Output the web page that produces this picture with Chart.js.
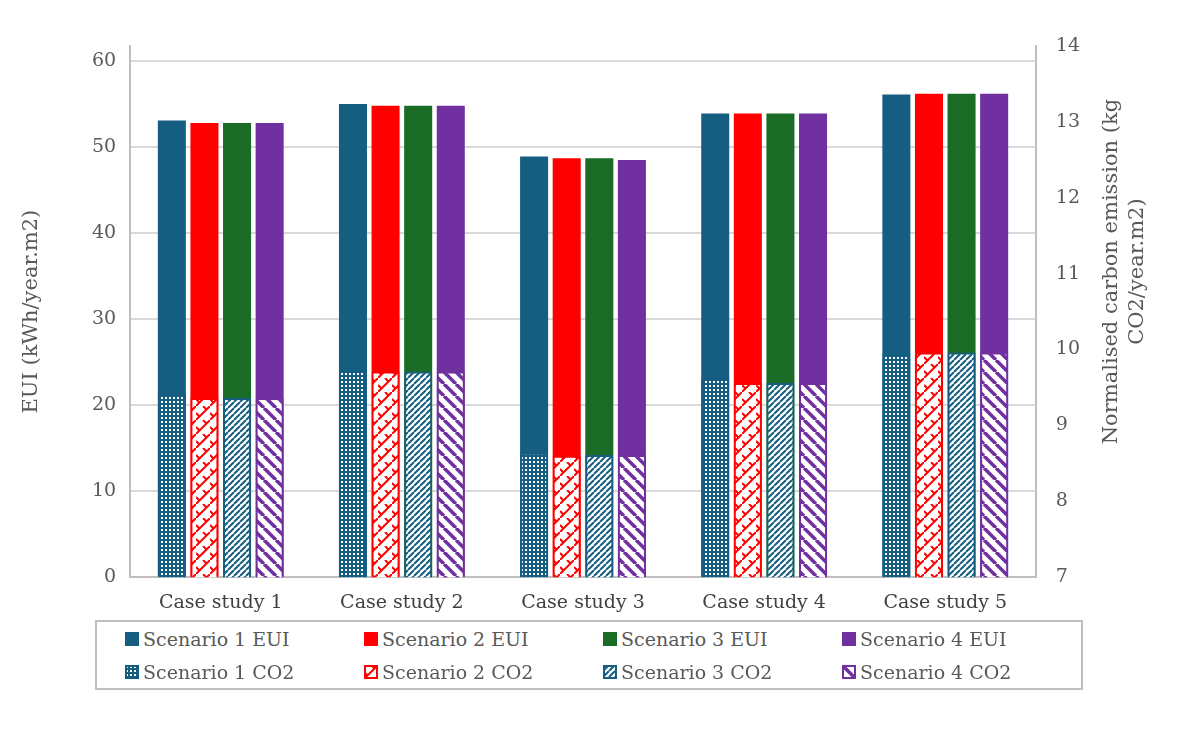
<!DOCTYPE html>
<html><head><meta charset="utf-8">
<script src="https://cdn.jsdelivr.net/npm/chart.js@4"></script>
<style>
body{margin:0;background:#fff;font-family:"DejaVu Serif",serif;}
#wrap{position:relative;width:1200px;height:733px;}
#legend{position:absolute;left:95px;top:620px;width:988px;height:70px;border:2px solid #bfbfbf;box-sizing:border-box;
 display:grid;grid-template-columns:repeat(4,1fr);align-items:center;padding:0 0 0 28px;color:#595959;font-size:19px;}
#legend div{display:flex;align-items:center;gap:4px;}
#legend canvas{width:14px;height:14px;}
</style></head><body>
<div id="wrap"><canvas id="c" width="1200" height="620"></canvas><div id="legend"></div></div>
<script>
const categories = ['Case study 1','Case study 2','Case study 3','Case study 4','Case study 5'];
const s1EUI = [53.1, 55.0, 48.9, 53.9, 56.1];
const s2EUI = [52.8, 54.8, 48.7, 53.9, 56.2];
const s3EUI = [52.8, 54.8, 48.7, 53.9, 56.2];
const s4EUI = [52.8, 54.8, 48.5, 53.9, 56.2];
const s1CO2 = [9.42, 9.73, 8.64, 9.62, 9.95];
const s2CO2 = [9.36, 9.71, 8.60, 9.56, 9.96];
const s3CO2 = [9.36, 9.71, 8.61, 9.56, 9.96];
const s4CO2 = [9.36, 9.71, 8.61, 9.56, 9.96];
const leftTicks = [0,10,20,30,40,50,60];
const rightTicks = [7,8,9,10,11,12,13,14];
const colors = ['#155e82','#ff0000','#1a6b26','#7030a0'];
const patColors = ['#155e82','#ff0000','#155e82','#7030a0'];

function makePattern(kind, col){
  const c = document.createElement('canvas'); const x = c.getContext('2d');
  if(kind===0){ c.width=c.height=4; x.fillStyle=col; x.fillRect(0,0,4,4); x.fillStyle='#fff'; x.fillRect(1,1,2,2); }
  else if(kind===1){ c.width=c.height=14; x.fillStyle='#fff'; x.fillRect(0,0,14,14); x.strokeStyle=col; x.lineWidth=2;
    x.beginPath(); x.moveTo(0,14); x.lineTo(14,0); x.moveTo(0,7); x.lineTo(4,11); x.moveTo(7,0); x.lineTo(11,4); x.stroke(); }
  else if(kind===2){ c.width=c.height=6; x.fillStyle='#fff'; x.fillRect(0,0,6,6); x.strokeStyle=col; x.lineWidth=2;
    x.beginPath(); for(let k=-6;k<=12;k+=6){ x.moveTo(k,6); x.lineTo(k+6,0);} x.stroke(); }
  else { c.width=c.height=12; x.fillStyle='#fff'; x.fillRect(0,0,12,12); x.strokeStyle=col; x.lineWidth=3.5;
    x.beginPath(); for(let k=-12;k<=24;k+=12){ x.moveTo(k,0); x.lineTo(k+12,12);} x.stroke(); }
  return c;
}
const ctx = document.getElementById('c').getContext('2d');
const pats = patColors.map((c,i)=>ctx.createPattern(makePattern(i,c),'repeat'));
const eui = [s1EUI,s2EUI,s3EUI,s4EUI], co2 = [s1CO2,s2CO2,s3CO2,s4CO2];
const datasets = [];
for(let i=0;i<4;i++) datasets.push({label:'Scenario '+(i+1)+' EUI',data:eui[i],backgroundColor:colors[i],stack:'s'+i,yAxisID:'y',order:1});
for(let i=0;i<4;i++) datasets.push({label:'Scenario '+(i+1)+' CO2',data:co2[i],backgroundColor:pats[i],borderColor:patColors[i],borderWidth:2,borderSkipped:false,stack:'s'+i,yAxisID:'y2',order:0});

const font = {family:'"DejaVu Serif", serif', size:19};
const titles = {id:'titles',afterDraw(ch){
  const c=ch.ctx, a=ch.chartArea; c.save(); c.fillStyle='#595959'; c.font='21px "DejaVu Serif", serif';
  c.textAlign='center'; c.textBaseline='middle';
  c.translate(32,(a.top+a.bottom)/2); c.rotate(-Math.PI/2); c.fillText('EUI (kWh/year.m2)',0,0); c.restore();
  c.save(); c.fillStyle='#595959'; c.font='21px "DejaVu Serif", serif'; c.textAlign='center'; c.textBaseline='middle';
  c.translate(1112,(a.top+a.bottom)/2-40); c.rotate(-Math.PI/2);
  c.fillText('Normalised carbon emission (kg',0,0); c.fillText('CO2/year.m2)',0,26); c.restore();
}};
new Chart(ctx,{type:'bar',data:{labels:categories,datasets},plugins:[titles],
 options:{responsive:false,animation:false,
  layout:{padding:{left:78,right:108,top:46,bottom:0}},
  plugins:{legend:{display:false},tooltip:{enabled:false}},
  datasets:{bar:{categoryPercentage:0.72,barPercentage:0.86}},
  scales:{
   x:{grid:{display:false},border:{color:'#bfbfbf',width:2},ticks:{color:'#404040',font,padding:6}},
   y:{position:'left',min:0,max:61.75,afterBuildTicks:s=>{s.ticks=leftTicks.map(v=>({value:v}));},
      grid:{color:'#d9d9d9',lineWidth:2,drawTicks:false},border:{color:'#bfbfbf',width:2},
      ticks:{color:'#595959',font,padding:14}},
   y2:{position:'right',min:7,max:14,afterBuildTicks:s=>{s.ticks=rightTicks.map(v=>({value:v}));},
      grid:{display:false},border:{color:'#bfbfbf',width:2},
      ticks:{color:'#595959',font,padding:12}}
  }}});

const lg = document.getElementById('legend');
const items = [];
for(let i=0;i<4;i++) items.push([colors[i],'Scenario '+(i+1)+' EUI',null]);
for(let i=0;i<4;i++) items.push([patColors[i],'Scenario '+(i+1)+' CO2',i]);
items.forEach(([col,txt,p])=>{
  const d=document.createElement('div'); const cv=document.createElement('canvas'); cv.width=cv.height=14;
  const x=cv.getContext('2d');
  if(p===null){x.fillStyle=col;x.fillRect(0,0,14,14);}
  else{x.fillStyle=x.createPattern(makePattern(p,col),'repeat');x.fillRect(0,0,14,14);x.strokeStyle=col;x.lineWidth=2;x.strokeRect(1,1,12,12);}
  d.appendChild(cv); d.appendChild(document.createTextNode(txt)); lg.appendChild(d);
});
</script></body></html>
